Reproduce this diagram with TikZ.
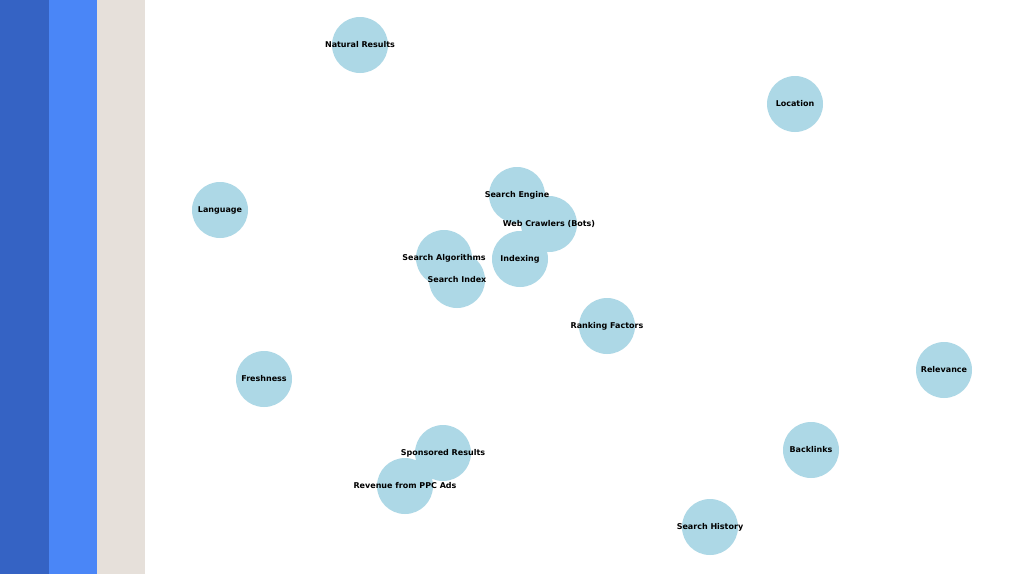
\documentclass[tikz,border=0pt]{standalone}
\usepackage{fontspec}
\setmainfont{DejaVu Sans}
\usetikzlibrary{backgrounds,arrows.meta}
\definecolor{nodec}{HTML}{ADD8E6}
\begin{document}
\begin{tikzpicture}[x=1pt,y=-1pt,
  nd/.style={circle,fill=nodec,minimum size=56pt,inner sep=0pt},
  lb/.style={font=\bfseries\fontsize{8}{9}\selectfont},
  ed/.style={draw=gray,line width=0.7pt,-{Stealth[length=5pt,width=4pt]},shorten >=0pt}]
\useasboundingbox (0,0) rectangle (1020,574);
\fill[white] (0,0) rectangle (1020,574);
\fill[fill={rgb,255:red,53;green,99;blue,196}] (0,0) rectangle (49,574);
\fill[fill={rgb,255:red,74;green,134;blue,247}] (49,0) rectangle (97,574);
\fill[fill={rgb,255:red,230;green,224;blue,218}] (97,0) rectangle (145,574);
\node[nd] (nat) at (360,45) {};
\node[nd] (loc) at (795,104) {};
\node[nd] (lang) at (220,210) {};
\node[nd] (eng) at (517,195) {};
\node[nd] (web) at (549,224) {};
\node[nd] (alg) at (444,258) {};
\node[nd] (idx) at (520,259) {};
\node[nd] (sidx) at (457,280) {};
\node[nd] (rank) at (607,326) {};
\node[nd] (fresh) at (264,379) {};
\node[nd] (rel) at (944,370) {};
\node[nd] (spon) at (443,453) {};
\node[nd] (back) at (811,450) {};
\node[nd] (rev) at (405,486) {};
\node[nd] (hist) at (710,527) {};
\begin{scope}[on background layer]
\draw[ed] (eng) -- (web);
\draw[ed] (web) -- (idx);
\draw[ed] (idx) -- (sidx);
\draw[ed] (sidx) -- (alg);
\draw[ed] (alg) -- (nat);
\draw[ed] (alg) -- (rank);
\draw[ed] (sidx) -- (spon);
\draw[ed] (spon) -- (rev);
\draw[ed] (rank) -- (loc);
\draw[ed] (rank) -- (lang);
\draw[ed] (rank) -- (fresh);
\draw[ed] (rank) -- (rel);
\draw[ed] (rank) -- (back);
\draw[ed] (rank) -- (hist);
\end{scope}
\foreach \n/\t in {nat/Natural Results,loc/Location,lang/Language,eng/Search Engine,web/Web Crawlers (Bots),alg/Search Algorithms,idx/Indexing,sidx/Search Index,rank/Ranking Factors,fresh/Freshness,rel/Relevance,spon/Sponsored Results,back/Backlinks,rev/Revenue from PPC Ads,hist/Search History}
  \node[lb] at (\n) {\t};
\end{tikzpicture}
\end{document}
